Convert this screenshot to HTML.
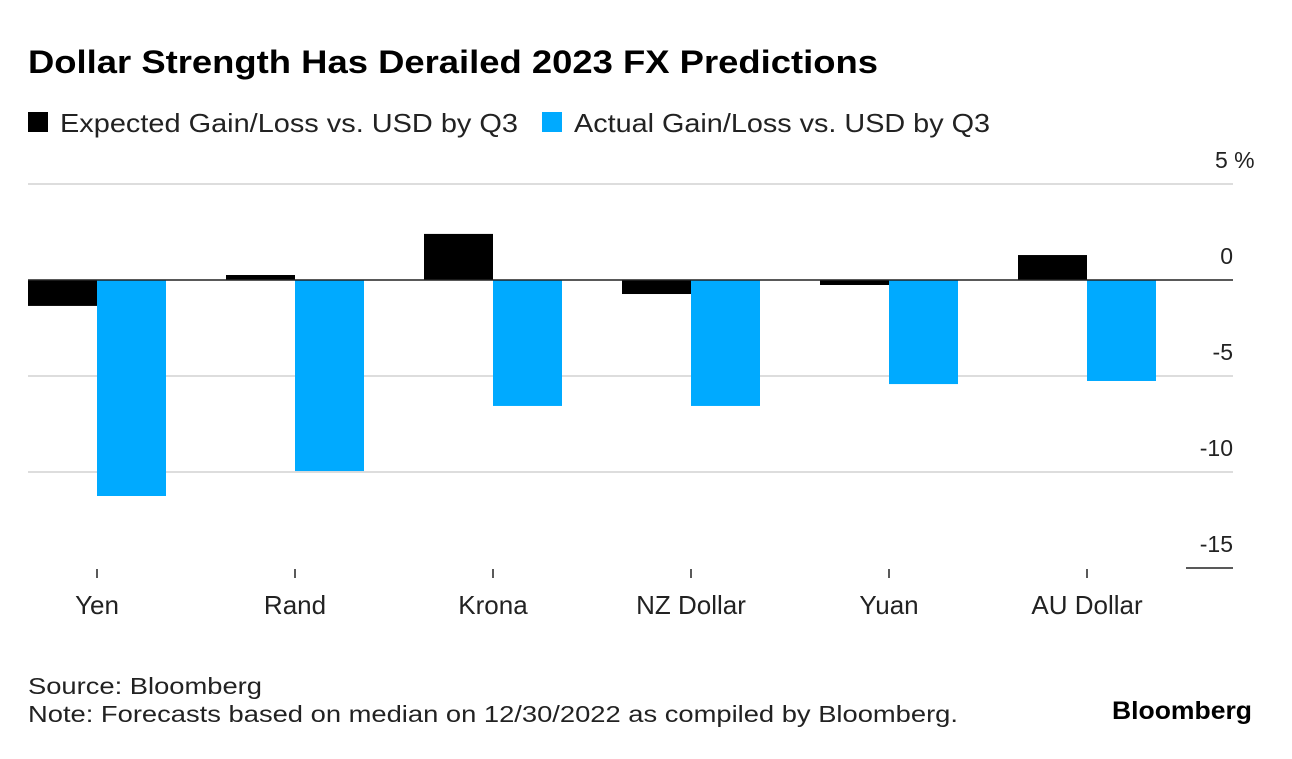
<!DOCTYPE html>
<html><head><meta charset="utf-8"><style>
body{margin:0;background:#fff;width:1292px;height:754px;overflow:hidden;font-family:"Liberation Sans",sans-serif;}
svg text{font-family:"Liberation Sans",sans-serif;}
</style></head><body>
<svg width="1292" height="754">
<text x="28" y="73" font-size="32" font-weight="bold" fill="#000" textLength="850" lengthAdjust="spacingAndGlyphs">Dollar Strength Has Derailed 2023 FX Predictions</text>
<g>
<rect x="28" y="112" width="20" height="20" fill="#000"/>
<text x="60" y="132" font-size="26" fill="#222" textLength="458" lengthAdjust="spacingAndGlyphs">Expected Gain/Loss vs. USD by Q3</text>
<rect x="542" y="112" width="20" height="20" fill="#00aaff"/>
<text x="574" y="132" font-size="26" fill="#222" textLength="416" lengthAdjust="spacingAndGlyphs">Actual Gain/Loss vs. USD by Q3</text>
</g>
<g id="grid"></g>
<g id="bars"></g>
<g id="xaxis"></g>
<text x="28" y="694" font-size="23" fill="#222" textLength="234" lengthAdjust="spacingAndGlyphs">Source: Bloomberg</text>
<text x="28" y="722" font-size="23" fill="#222" textLength="930" lengthAdjust="spacingAndGlyphs">Note: Forecasts based on median on 12/30/2022 as compiled by Bloomberg.</text>
<text x="1112" y="719" font-size="25" font-weight="bold" fill="#000" textLength="140" lengthAdjust="spacingAndGlyphs">Bloomberg</text>
</svg>
<script>
const categories=["Yen","Rand","Krona","NZ Dollar","Yuan","AU Dollar"];
const expected=[-1.35,0.26,2.4,-0.73,-0.26,1.3];
const actual=[-11.25,-9.95,-6.56,-6.56,-5.42,-5.26];
const yTicks=[5,0,-5,-10,-15];
const yTickLabels=["5 %","0","-5","-10","-15"];
const NS="http://www.w3.org/2000/svg";
const y=v=>280-v*19.2;
const xC=i=>97+i*198;
const bw=69;
function mk(t,a,p){const e=document.createElementNS(NS,t);for(const k in a)e.setAttribute(k,a[k]);document.getElementById(p).appendChild(e);return e;}
yTicks.forEach((t,i)=>{
  let ln;
  if(t===-15){ln=mk('line',{x1:1186,x2:1233,y1:y(t),y2:y(t),stroke:'#222','stroke-width':1.5},'grid');}
  else if(t!==0){ln=mk('line',{x1:28,x2:1233,y1:y(t),y2:y(t),stroke:'#ddd','stroke-width':2},'grid');}
  if(ln){}
  const tx=mk('text',{x:1233,y:y(t)-16,'font-size':23,fill:'#222','text-anchor':'end'},'grid');
  
  
  tx.textContent=yTickLabels[i];
  if(t===5){tx.setAttribute('text-anchor','start');tx.setAttribute('x',1215);}
});
categories.forEach((c,i)=>{
  const e=expected[i],a=actual[i];
  const r1=mk('rect',{x:xC(i)-bw,y:Math.min(y(e),y(0)),width:bw,height:Math.abs(y(e)-y(0)),fill:'#000'},'bars');
  
  
  const r2=mk('rect',{x:xC(i),y:Math.min(y(a),y(0)),width:bw,height:Math.abs(y(a)-y(0)),fill:'#00aaff'},'bars');
  
  
  const tk=mk('line',{x1:xC(i),x2:xC(i),y1:569,y2:578,stroke:'#222','stroke-width':1.5},'xaxis');
  
  
  const lb=mk('text',{x:xC(i),y:614,'font-size':26,fill:'#222','text-anchor':'middle'},'xaxis');
  
  
  lb.textContent=c;
});
const z=mk('line',{x1:28,x2:1233,y1:y(0),y2:y(0),stroke:'#222','stroke-width':1.5},'bars');


</script>
</body></html>
